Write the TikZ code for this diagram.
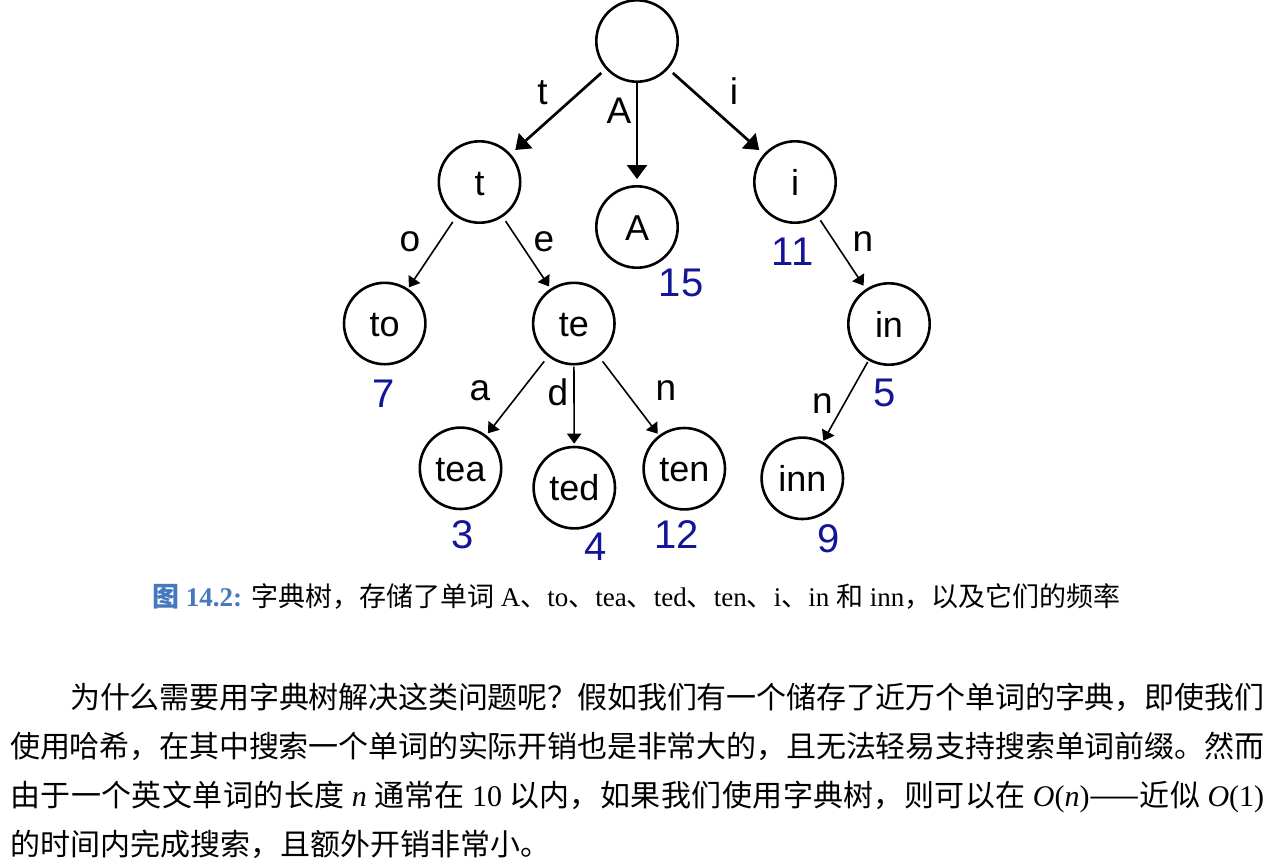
\documentclass[tikz,border=0pt]{standalone}
\usepackage{fontspec}
\usetikzlibrary{arrows.meta}
\setmainfont{Liberation Serif}
\newfontfamily\cjk{Noto Sans CJK SC}
\newfontfamily\lsans{Liberation Sans}
\definecolor{numblue}{RGB}{20,20,150}
\definecolor{capblue}{RGB}{70,120,190}
\XeTeXlinebreaklocale "zh"
\XeTeXlinebreakskip=0pt plus 3pt minus 1pt
\begin{document}
\begin{tikzpicture}[x=1pt,y=-1pt,
  tnode/.style={circle, draw, line width=2.6pt, minimum size=81.4pt, inner sep=0pt,
    font=\lsans\fontsize{36}{40}\selectfont, text height=26pt, text depth=0pt},
  bigarrow/.style={-{Triangle[length=14pt,width=20pt]}, line width=2.7pt},
  smallarrow/.style={-{Triangle[length=10pt,width=14pt]}, line width=1.6pt},
  elabel/.style={anchor=base, inner sep=0pt, font=\lsans\fontsize{37}{40}\selectfont},
  freq/.style={anchor=base, inner sep=0pt, text=numblue, font=\lsans\fontsize{40}{44}\selectfont},
  captext/.style={anchor=base west, inner sep=0pt, font=\fontsize{27}{30}\selectfont},
  paratext/.style={anchor=base west, inner sep=0pt, text width=1254pt, align=justify,
    font=\cjk\fontsize{30}{49}\selectfont}
]
\fill[white] (0,0) rectangle (1274,863);
\useasboundingbox (0,0) rectangle (1274,863);

% tree nodes
\node[tnode] (root) at (637,41) {};
\node[tnode] (t) at (479.5,182) {t};
\node[tnode] (A) at (637,227) {A};
\node[tnode] (i) at (795,182) {i};
\node[tnode] (to) at (384.7,323.5) {to};
\node[tnode] (te) at (573.8,323.5) {te};
\node[tnode] (in) at (889,324) {in};
\node[tnode] (tea) at (460.5,468.3) {tea};
\node[tnode] (ted) at (574.3,487.7) {ted};
\node[tnode] (ten) at (684.3,468.7) {ten};
\node[tnode] (inn) at (802.3,478.3) {inn};

% connectors
\draw[bigarrow, shorten <=6pt, shorten >=6pt] (root) -- (t);
\draw[bigarrow, shorten >=6pt] (root) -- (A);
\draw[bigarrow, shorten <=6pt, shorten >=6pt] (root) -- (i);
\draw[smallarrow, shorten <=6pt, shorten >=1.5pt] (t) -- (to);
\draw[smallarrow, shorten <=5pt, shorten >=2.5pt] (t) -- (te);
\draw[smallarrow, shorten <=4pt, shorten >=4pt] (i) -- (in);
\draw[smallarrow, shorten <=6pt, shorten >=2.5pt] (te) -- (tea);
\draw[smallarrow, shorten <=1pt, shorten >=2pt] (te) -- (ted);
\draw[smallarrow, shorten <=5.5pt, shorten >=2pt] (te) -- (ten);
\draw[smallarrow, shorten <=1.5pt, shorten >=1pt] (in) -- (inn);

% edge labels
\node[elabel] (lt) at (542.5,104) {t};
\node[elabel] (lA) at (619,123.3) {A};
\node[elabel] (li) at (734,104) {i};
\node[elabel] (lo) at (410,251.5) {o};
\node[elabel] (le) at (544,251.5) {e};
\node[elabel] (lin) at (863,251.5) {n};
\node[elabel] (la) at (480,400) {a};
\node[elabel] (ld) at (558,405) {d};
\node[elabel] (ln) at (666,400) {n};
\node[elabel] (linn) at (822.5,413) {n};

% frequencies
\node[freq] (f15) at (681,296.7) {15};
\node[freq] (f11) at (792.5,265) {11};
\node[freq] (f7) at (384,407) {7};
\node[freq] (f5) at (885,406) {5};
\node[freq] (f3) at (463,548) {3};
\node[freq] (f4) at (596,560) {4};
\node[freq] (f12) at (676.7,548) {12};
\node[freq] (f9) at (828.7,552) {9};

% caption
\node[captext] (cap) at (152,606) {{\color{capblue}{\cjk\bfseries 图} \bfseries 14.2:} {\cjk 字典树，存储了单词} A{\cjk 、}to{\cjk 、}tea{\cjk 、}ted{\cjk 、}ten{\cjk 、}i{\cjk 、}in {\cjk 和} inn{\cjk ，以及它们的频率}};

% paragraph
\node[paratext] (para) at (10,708) {\tolerance=10000\hspace*{2em}为什么需要用字典树解决这类问题呢？假如我们有一个储存了近万个单词的字典，即使我们\linebreak 使用哈希，在其中搜索一个单词的实际开销也是非常大的，且无法轻易支持搜索单词前缀。然而\linebreak 由于一个英文单词的长度 {\rmfamily\itshape n} 通常在 {\rmfamily 10} 以内，如果我们使用字典树，则可以在 {\rmfamily\itshape O\/\upshape(\itshape n\/\upshape)}——近似 {\rmfamily\itshape O\/\upshape(1)}\linebreak 的时间内完成搜索，且额外开销非常小。\par};
\end{tikzpicture}
\end{document}
